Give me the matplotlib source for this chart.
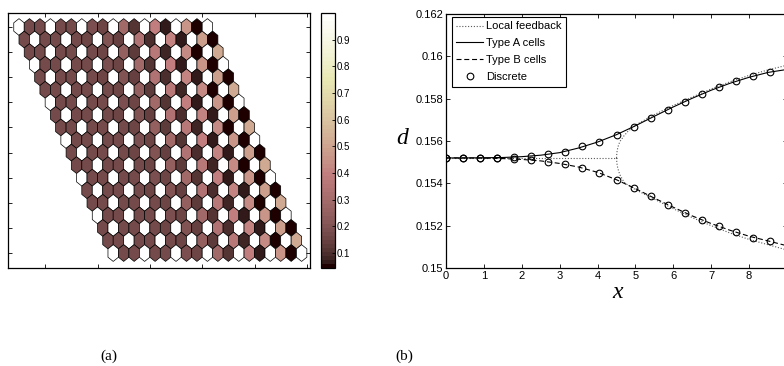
import numpy as np
import matplotlib
matplotlib.use('Agg')
import matplotlib.pyplot as plt
from matplotlib.collections import PolyCollection
from matplotlib.colors import Normalize

# ---------------- data for panel (a) ----------------
n_rows = 19
n_cols = 19
# value of the two non-white cell types, per lattice column
type1_vals = [0.165, 0.165, 0.165, 0.165, 0.165, 0.165, 0.17, 0.18, 0.20, 0.24, 0.29,
              0.33, 0.36, 0.39, 0.41, 0.43, 0.45, 0.48, 0.51]
type2_vals = [0.165, 0.165, 0.165, 0.165, 0.165, 0.165, 0.16, 0.155, 0.15, 0.14, 0.12,
              0.105, 0.09, 0.08, 0.07, 0.06, 0.052, 0.047, 0.045]
white_val = 1.0
cbar_min, cbar_max = 0.044, 1.0
cbar_ticks = [0.1, 0.2, 0.3, 0.4, 0.5, 0.6, 0.7, 0.8, 0.9]

# ---------------- data for panel (b) ----------------
x_disc = [0.0, 0.45, 0.9, 1.35, 1.8, 2.25, 2.7, 3.15, 3.6, 4.05, 4.5, 4.95,
          5.4, 5.85, 6.3, 6.75, 7.2, 7.65, 8.1, 8.55]
dA_disc = [0.15522, 0.15522, 0.15522, 0.15522, 0.15525, 0.15530, 0.15538, 0.15549,
           0.15575, 0.15597, 0.15628, 0.15666, 0.15707, 0.15747, 0.15785, 0.15821,
           0.15853, 0.15882, 0.15906, 0.15926]
dB_disc = [0.15522, 0.15522, 0.15522, 0.15521, 0.15516, 0.15510, 0.15502, 0.15489,
           0.15474, 0.15449, 0.15416, 0.15380, 0.15339, 0.15300, 0.15262, 0.15227,
           0.15198, 0.15171, 0.15144, 0.15127]
x_cont = [0.0, 0.5, 1.0, 1.5, 2.0, 2.5, 3.0, 3.5, 4.0, 4.5, 5.0, 5.5, 6.0, 6.5,
          7.0, 7.5, 8.0, 8.5, 9.0]
dA_cont = [0.15520, 0.15520, 0.15521, 0.15522, 0.15526, 0.15533, 0.15545, 0.15567,
           0.15595, 0.15630, 0.15672, 0.15717, 0.15761, 0.15802, 0.15840, 0.15873,
           0.15901, 0.15924, 0.15938]
dB_cont = [0.15520, 0.15520, 0.15519, 0.15517, 0.15513, 0.15506, 0.15494, 0.15477,
           0.15452, 0.15417, 0.15375, 0.15330, 0.15287, 0.15246, 0.15210, 0.15178,
           0.15150, 0.15128, 0.15105]
x_lf_flat = [0.0, 4.5]
d_lf_flat = [0.1552, 0.1552]
x_lf_branch = [4.50, 4.51, 4.53, 4.56, 4.60, 4.70, 4.80, 4.90, 5.00, 5.50, 6.00,
               6.50, 7.00, 7.50, 8.00, 8.50, 9.00]
d_lf_up = [0.15520, 0.15545, 0.15565, 0.15585, 0.15600, 0.15625, 0.15645, 0.15660,
           0.15675, 0.15725, 0.15768, 0.15808, 0.15846, 0.15880, 0.15910, 0.15936,
           0.15958]
d_lf_down = [0.15520, 0.15495, 0.15475, 0.15455, 0.15437, 0.15405, 0.15392, 0.15382,
             0.15370, 0.15325, 0.15280, 0.15238, 0.15200, 0.15165, 0.15135, 0.15110,
             0.15085]
b_xticks = [0, 1, 2, 3, 4, 5, 6, 7, 8, 9]
b_yticks = [0.15, 0.152, 0.154, 0.156, 0.158, 0.16, 0.162]

# ---------------- figure ----------------
W, H = 784, 366
fig = plt.figure(figsize=(W / 100, H / 100), dpi=100)
sans = ['Liberation Sans', 'DejaVu Sans']
serif = ['Liberation Serif', 'DejaVu Serif']

# panel (a): hexagonal lattice
ax_a = fig.add_axes([8 / W, (H - 268) / H, 302 / W, 255 / H])
R = 1 / np.sqrt(3)
ang = np.deg2rad(90 + 60 * np.arange(6))
polys, vals = [], []
for r in range(n_rows):
    for c in range(n_cols):
        cx = c + 0.5 * r
        cy = -np.sqrt(3) / 2 * r
        polys.append(np.column_stack([cx + R * np.cos(ang), cy + R * np.sin(ang)]))
        t = (c - r) % 3
        if t == 0:
            vals.append(white_val)
        elif t == 1:
            vals.append(type1_vals[c])
        else:
            vals.append(type2_vals[c])
cmap = plt.get_cmap('pink', 64)
norm = Normalize(cbar_min, cbar_max)
pc = PolyCollection(polys, array=np.array(vals), cmap=cmap, norm=norm,
                    edgecolors='black', linewidths=0.5)
ax_a.add_collection(pc)
ax_a.set_xlim(-1.05, 27.8)
ax_a.set_ylim(-16.62, 0.966)
ax_a.set_xticks([2.5, 7.5, 12.5, 17.5, 22.5, 27.5])
ax_a.set_yticks([-np.sqrt(3) / 2 * k for k in range(0, 19, 2)])
ax_a.tick_params(direction='in', length=3, width=0.6, top=True, right=True,
                 labelbottom=False, labelleft=False)
for s in ax_a.spines.values():
    s.set_linewidth(0.9)

# colorbar
cax = fig.add_axes([321 / W, (H - 268) / H, 14 / W, 255 / H])
cb = fig.colorbar(pc, cax=cax, ticks=cbar_ticks)
cb.outline.set_linewidth(0.9)
cax.tick_params(direction='in', length=2, width=0.6, labelsize=7, pad=1.5)
cax.set_yticklabels(['%g' % t for t in cbar_ticks])
for lab in cax.get_yticklabels():
    lab.set_fontfamily(sans)

# panel (b)
ax_b = fig.add_axes([446 / W, (H - 268) / H, 341 / W, 254 / H])
lw = 0.8
ax_b.plot(x_lf_flat, d_lf_flat, linestyle=(0, (1, 1.6)), color='0.35', lw=lw,
          label='Local feedback')
ax_b.plot(x_lf_branch, d_lf_up, linestyle=(0, (1, 1.6)), color='0.35', lw=lw)
ax_b.plot(x_lf_branch, d_lf_down, linestyle=(0, (1, 1.6)), color='0.35', lw=lw)
ax_b.plot(x_cont, dA_cont, '-', color='black', lw=lw, label='Type A cells')
ax_b.plot(x_cont, dB_cont, color='black', lw=lw, dashes=(4.5, 2.5),
          label='Type B cells')
ax_b.plot(x_disc, dA_disc, 'o', mfc='none', mec='black', ms=4.8, mew=0.8,
          label='Discrete')
ax_b.plot(x_disc, dB_disc, 'o', mfc='none', mec='black', ms=4.8, mew=0.8)
ax_b.set_xlim(0, 9)
ax_b.set_ylim(0.15, 0.162)
ax_b.set_xticks(b_xticks)
ax_b.set_yticks(b_yticks)
ax_b.set_xticklabels(['%g' % t for t in b_xticks])
ax_b.set_yticklabels(['%g' % t for t in b_yticks])
ax_b.tick_params(direction='in', length=3, width=0.6, top=True, right=True,
                 labelsize=8, pad=2)
for lab in ax_b.get_xticklabels() + ax_b.get_yticklabels():
    lab.set_fontfamily(sans)
for s in ax_b.spines.values():
    s.set_linewidth(0.9)

leg = ax_b.legend(loc='upper left', bbox_to_anchor=(0.0176, 0.988),
                  borderaxespad=0, fancybox=False, framealpha=1,
                  edgecolor='black', handlelength=2.4, handletextpad=0.3,
                  borderpad=0.4, labelspacing=0.62,
                  prop={'family': sans, 'size': 8})
leg.get_frame().set_linewidth(0.8)

fig.text(402 / W, 1 - 138 / H, 'd', family=serif, style='italic', fontsize=17,
         ha='center', va='center')
fig.text(618 / W, 1 - 292 / H, 'x', family=serif, style='italic', fontsize=17,
         ha='center', va='center')
fig.text(109 / W, 1 - 356 / H, '(a)', family=serif, fontsize=11,
         ha='center', va='center')
fig.text(404 / W, 1 - 356 / H, '(b)', family=serif, fontsize=11,
         ha='center', va='center')

fig.savefig('out.png', dpi=100)
